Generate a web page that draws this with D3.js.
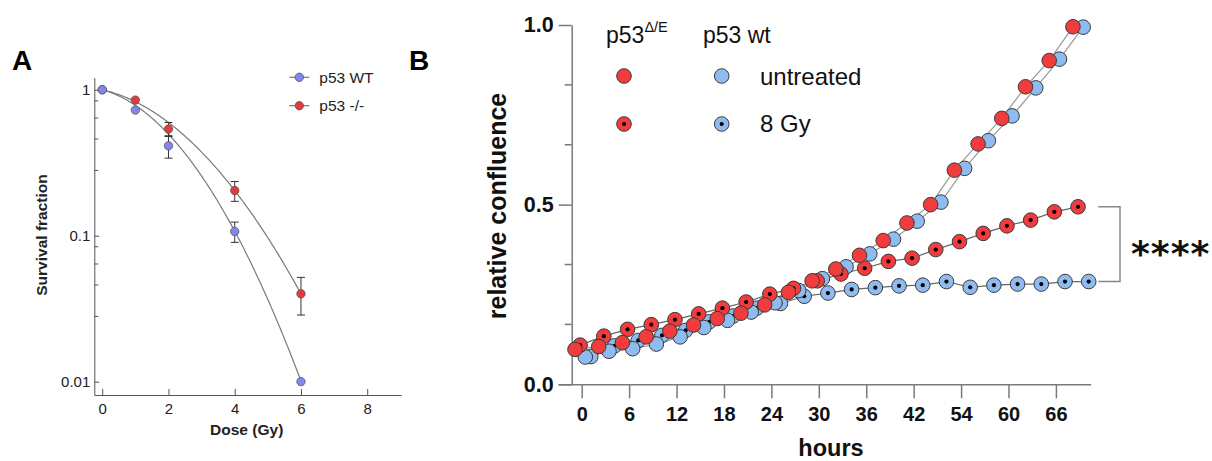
<!DOCTYPE html>
<html>
<head>
<meta charset="utf-8">
<script src="https://cdn.jsdelivr.net/npm/d3@7"></script>
<style>
  body { margin: 0; background: #fff; }
  svg { display: block; font-family: "Liberation Sans", Arial, sans-serif; }
</style>
</head>
<body>
<svg id="chart" width="1212" height="461"></svg>
<script>
// ---- Panel A: clonogenic survival ----
const doses = [0, 1, 2, 4, 6];
const wtSurvival = [1, 0.726, 0.413, 0.107, 0.01];
const wtErrLow  = [null, null, 0.34, 0.090, null];
const wtErrHigh = [null, null, 0.484, 0.124, null];
const koSurvival = [1, 0.85, 0.538, 0.204, 0.040];
const koErrLow  = [null, null, 0.479, 0.172, 0.0286];
const koErrHigh = [null, null, 0.597, 0.235, 0.0518];
// linear-quadratic fit parameters, S = exp(-(aD + bD^2))
const wtFit = { alpha: 0.142, beta: 0.104 };
const koFit = { alpha: 0.119, beta: 0.0696 };
const doseTicks = [0, 2, 4, 6, 8];
const survTicks = [1, 0.1, 0.01];
const survTickLabels = ["1", "0.1", "0.01"];
const survMinorTicks = [0.84, 0.64, 0.46, 0.28, 0.084, 0.064, 0.046, 0.028];

// ---- Panel B: relative confluence over time ----
const hours = [0, 3, 6, 9, 12, 15, 18, 21, 24, 27, 30, 33, 36, 39, 42, 45, 48, 51, 54, 57, 60, 63];
const hourTicks = [0, 6, 12, 18, 24, 30, 36, 42, 48, 54, 60];
const hourTickLabels = ["0", "6", "12", "18", "24", "30", "36", "42", "54", "60", "66"];
const confTicks = [0, 0.5, 1];
const confMinorTicks = [1 / 6, 2 / 6, 4 / 6, 5 / 6];

const mutUntreated = [0.097, 0.105, 0.116, 0.132, 0.148, 0.165, 0.183, 0.198, 0.221, 0.256, 0.288,
  0.321, 0.359, 0.400, 0.449, 0.500, 0.596, 0.669, 0.740, 0.828, 0.901, 0.995];
const wtUntreated = [0.076, 0.092, 0.099, 0.112, 0.132, 0.158, 0.178, 0.201, 0.227, 0.261, 0.294,
  0.327, 0.363, 0.404, 0.454, 0.507, 0.601, 0.678, 0.747, 0.825, 0.905, 0.994];
const mut8Gy = [0.109, 0.134, 0.153, 0.166, 0.180, 0.196, 0.212, 0.229, 0.251, 0.267, 0.288,
  0.307, 0.323, 0.342, 0.351, 0.375, 0.397, 0.420, 0.441, 0.457, 0.480, 0.494];
const wt8Gy = [0.077, 0.107, 0.122, 0.136, 0.150, 0.174, 0.190, 0.212, 0.225, 0.245, 0.254,
  0.264, 0.269, 0.274, 0.276, 0.286, 0.270, 0.276, 0.279, 0.279, 0.286, 0.286];

const svg = d3.select("#chart");
const blueA = "#8585ee", redA = "#e8383a";
const redB = "#f03c3c", blueB = "#8fbcf0";

// ================= Panel A =================
const xA = d3.scaleLinear().domain([-0.24, 9.02]).range([94.3, 401]);
const yA = d3.scaleLog().domain([1.21, 0.0081]).range([77.7, 395]);
const gA = svg.append("g");

gA.append("g")
  .attr("transform", "translate(0,395)")
  .call(d3.axisBottom(xA).tickValues(doseTicks).tickFormat(d3.format("d"))
    .tickSizeInner(-6).tickSizeOuter(0).tickPadding(8))
  .call(g => g.selectAll("text").attr("font-size", 15).attr("fill", "#222"));

gA.append("g")
  .attr("transform", "translate(94.3,0)")
  .call(d3.axisLeft(yA).tickValues(survTicks).tickFormat((d, i) => survTickLabels[i])
    .tickSizeInner(-5).tickSizeOuter(0).tickPadding(4))
  .call(g => g.selectAll("text").attr("font-size", 15).attr("fill", "#222"));

gA.selectAll(".minorA").data(survMinorTicks).join("line")
  .attr("x1", 94.3).attr("x2", 98.3)
  .attr("y1", d => yA(d)).attr("y2", d => yA(d))
  .attr("stroke", "#555");

gA.selectAll(".domain, .tick line").attr("stroke", "#555");
gA.selectAll("g").attr("font-family", null);

function lqCurve(fit) {
  const pts = d3.range(0, 6.001, 0.05);
  return pts.map(D => [D, Math.exp(-(fit.alpha * D + fit.beta * D * D))]);
}
const curveLine = d3.line().x(d => xA(d[0])).y(d => yA(d[1]));
[koFit, wtFit].forEach(fit => {
  gA.append("path").attr("d", curveLine(lqCurve(fit)))
    .attr("fill", "none").attr("stroke", "#7a7a7a").attr("stroke-width", 1.2);
});

function drawErrors(lo, hi) {
  doses.forEach((d, i) => {
    if (lo[i] == null) return;
    const x = xA(d);
    gA.append("line").attr("x1", x).attr("x2", x).attr("y1", yA(hi[i])).attr("y2", yA(lo[i]))
      .attr("stroke", "#333").attr("stroke-width", 1);
    [lo[i], hi[i]].forEach(v => {
      gA.append("line").attr("x1", x - 4).attr("x2", x + 4).attr("y1", yA(v)).attr("y2", yA(v))
        .attr("stroke", "#333").attr("stroke-width", 1);
    });
  });
}
drawErrors(koErrLow, koErrHigh);
drawErrors(wtErrLow, wtErrHigh);

function drawDots(values, color) {
  gA.append("g").selectAll("circle").data(doses).join("circle")
    .attr("cx", d => xA(d)).attr("cy", (d, i) => yA(values[i]))
    .attr("r", 4.2).attr("fill", color).attr("stroke", "#555").attr("stroke-width", 0.8);
}
drawDots(koSurvival, redA);
drawDots(wtSurvival, blueA);

// legend A
[{ label: "p53 WT", color: blueA, y: 77.3 }, { label: "p53 -/-", color: redA, y: 105.7 }].forEach(l => {
  gA.append("line").attr("x1", 289.3).attr("x2", 309.3).attr("y1", l.y).attr("y2", l.y)
    .attr("stroke", "#777").attr("stroke-width", 1.2);
  gA.append("circle").attr("cx", 299.3).attr("cy", l.y).attr("r", 4.2)
    .attr("fill", l.color).attr("stroke", "#555").attr("stroke-width", 0.8);
  gA.append("text").attr("x", 319.3).attr("y", l.y + 5.5).attr("font-size", 15.5)
    .attr("fill", "#222").text(l.label);
});

gA.append("text").attr("x", 246.7).attr("y", 434.5).attr("text-anchor", "middle")
  .attr("font-size", 15.5).attr("font-weight", "bold").attr("fill", "#222").text("Dose (Gy)");
gA.append("text").attr("transform", "translate(47,235) rotate(-90)").attr("text-anchor", "middle")
  .attr("font-size", 15.5).attr("font-weight", "bold").attr("fill", "#222").text("Survival fraction");

svg.append("text").attr("x", 12).attr("y", 70).attr("font-size", 28).attr("font-weight", "bold").text("A");
svg.append("text").attr("x", 409).attr("y", 70).attr("font-size", 28).attr("font-weight", "bold").text("B");

// ================= Panel B =================
const xB = d3.scaleLinear().domain([-3, 64.4]).range([558, 1090.7]);
const yB = d3.scaleLinear().domain([0, 1]).range([384.3, 25]);
const gB = svg.append("g");

gB.append("g")
  .attr("transform", "translate(0,384.3)")
  .call(d3.axisBottom(xB).tickValues(hourTicks).tickFormat((d, i) => hourTickLabels[i])
    .tickSizeInner(14).tickSizeOuter(0).tickPadding(8.5))
  .call(g => g.selectAll("text").attr("font-size", 20).attr("font-weight", "bold").attr("fill", "#111"));

gB.append("g")
  .attr("transform", "translate(571.7,0)")
  .call(d3.axisLeft(yB).tickValues(confTicks).tickFormat(d3.format(".1f"))
    .tickSizeInner(13).tickSizeOuter(0).tickPadding(5))
  .call(g => g.selectAll("text").attr("font-size", 21.5).attr("font-weight", "bold").attr("fill", "#111"));

gB.selectAll(".minorB").data(confMinorTicks).join("line")
  .attr("x1", 564.7).attr("x2", 571.7)
  .attr("y1", d => yB(d)).attr("y2", d => yB(d));

gB.selectAll("line, .domain").attr("stroke", "#7a7a7a").attr("stroke-width", 1.5);
gB.selectAll("g").attr("font-family", null);

const seriesB = [
  { values: wt8Gy, offset: 1.15, fill: blueB, dot: true, line: "#666" },
  { values: wtUntreated, offset: 0.45, fill: blueB, dot: false, line: "#999" },
  { values: mut8Gy, offset: -0.2, fill: redB, dot: true, line: "#666" },
  { values: mutUntreated, offset: -0.85, fill: redB, dot: false, line: "#999" }
];

const lineB = d3.line().x(d => xB(d.t)).y(d => yB(d.v));
seriesB.forEach(s => {
  s.pts = hours.map((h, i) => ({ t: h + s.offset, v: s.values[i] }));
  gB.append("path").attr("d", lineB(s.pts)).attr("fill", "none")
    .attr("stroke", s.line).attr("stroke-width", 1.2);
});

function markerB(g, x, y, s) {
  g.append("circle").attr("cx", x).attr("cy", y).attr("r", 7.3)
    .attr("fill", s.fill).attr("stroke", "#3a3a3a").attr("stroke-width", 1);
  if (s.dot) g.append("circle").attr("cx", x).attr("cy", y).attr("r", 2.1).attr("fill", "#000");
}
seriesB.forEach(s => {
  const g = gB.append("g");
  s.pts.forEach(p => markerB(g, xB(p.t), yB(p.v), s));
});

// legend B
const legB = gB.append("g");
const p53mut = legB.append("text").attr("x", 606).attr("y", 42.5).attr("font-size", 23).attr("fill", "#111");
p53mut.append("tspan").text("p53");
p53mut.append("tspan").attr("font-size", 14.5).attr("dy", -11).text("\u0394/E");
legB.append("text").attr("x", 703).attr("y", 42.5).attr("font-size", 23).attr("fill", "#111").text("p53 wt");
markerB(legB, 624, 76, { fill: redB, dot: false });
markerB(legB, 721.7, 76, { fill: blueB, dot: false });
markerB(legB, 624, 124, { fill: redB, dot: true });
markerB(legB, 721.7, 124, { fill: blueB, dot: true });
legB.append("text").attr("x", 760).attr("y", 84.5).attr("font-size", 24).attr("fill", "#111").text("untreated");
legB.append("text").attr("x", 760).attr("y", 132).attr("font-size", 24).attr("fill", "#111").text("8 Gy");

// significance bracket
gB.append("path").attr("d", `M1098.3,${yB(mut8Gy[21])}H1120V${yB(wt8Gy[21])}H1098.3`)
  .attr("fill", "none").attr("stroke", "#888").attr("stroke-width", 1.5);
gB.append("text").attr("x", 1131).attr("y", 266).attr("font-family", "DejaVu Sans")
  .attr("font-size", 36).attr("font-weight", "bold").attr("letter-spacing", 1)
  .attr("fill", "#111").text("****");

gB.append("text").attr("x", 831).attr("y", 456).attr("text-anchor", "middle")
  .attr("font-size", 23.5).attr("font-weight", "bold").attr("fill", "#111").text("hours");
gB.append("text").attr("transform", "translate(506,206) rotate(-90)").attr("text-anchor", "middle")
  .attr("font-size", 25).attr("font-weight", "bold").attr("fill", "#111").text("relative confluence");
</script>
</body>
</html>
